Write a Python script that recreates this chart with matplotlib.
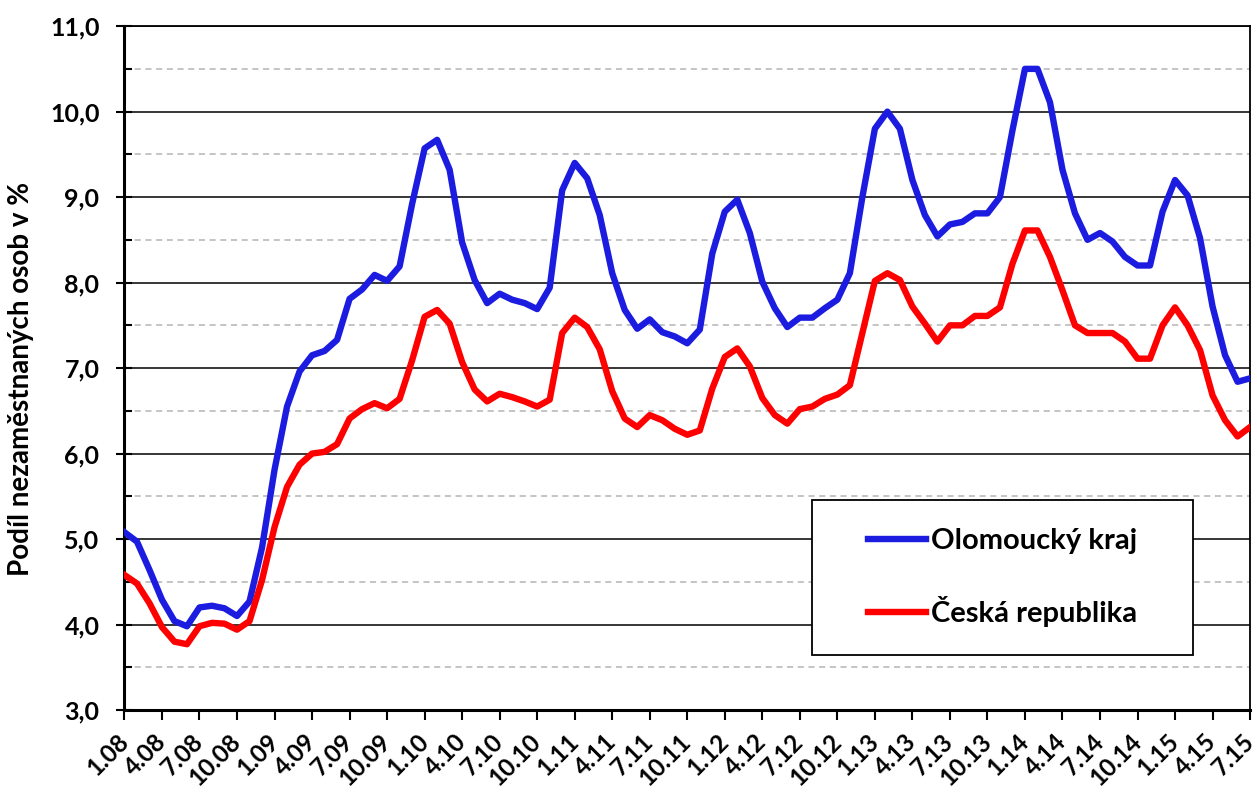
import numpy as np
import matplotlib
matplotlib.use("Agg")
import matplotlib.pyplot as plt
from matplotlib.patches import Rectangle
from matplotlib.ticker import MultipleLocator


# monthly unemployment share, 1/2008 .. 7/2015
olomoucky = [
    5.08, 4.97, 4.64, 4.29, 4.04, 3.98, 4.20, 4.22, 4.19, 4.10, 4.27, 4.90,
    5.81, 6.55, 6.96, 7.15, 7.20, 7.33, 7.81, 7.92, 8.09, 8.02, 8.19, 8.92,
    9.57, 9.67, 9.32, 8.47, 8.03, 7.76, 7.87, 7.80, 7.76, 7.69, 7.94, 9.08,
    9.40, 9.22, 8.79, 8.11, 7.68, 7.46, 7.57, 7.42, 7.37, 7.29, 7.45, 8.34,
    8.83, 8.97, 8.58, 8.01, 7.70, 7.48, 7.59, 7.59, 7.70, 7.80, 8.11, 9.00,
    9.80, 10.00, 9.80, 9.20, 8.79, 8.54, 8.68, 8.71, 8.81, 8.81, 9.00, 9.78,
    10.50, 10.50, 10.11, 9.32, 8.81, 8.50, 8.58, 8.48, 8.30, 8.20, 8.20, 8.83,
    9.20, 9.02, 8.52, 7.72, 7.15, 6.84, 6.88,
]
cr = [
    4.58, 4.48, 4.25, 3.97, 3.80, 3.77, 3.98, 4.02, 4.01, 3.94, 4.04, 4.52,
    5.14, 5.61, 5.87, 6.00, 6.02, 6.11, 6.41, 6.52, 6.59, 6.53, 6.64, 7.09,
    7.60, 7.68, 7.52, 7.07, 6.75, 6.61, 6.70, 6.66, 6.61, 6.55, 6.63, 7.41,
    7.59, 7.48, 7.22, 6.73, 6.41, 6.31, 6.45, 6.39, 6.29, 6.22, 6.27, 6.76,
    7.13, 7.23, 7.02, 6.65, 6.45, 6.35, 6.52, 6.55, 6.64, 6.69, 6.80, 7.41,
    8.02, 8.11, 8.03, 7.72, 7.52, 7.31, 7.50, 7.50, 7.61, 7.61, 7.71, 8.22,
    8.61, 8.61, 8.30, 7.91, 7.50, 7.41, 7.41, 7.41, 7.31, 7.11, 7.11, 7.50,
    7.71, 7.50, 7.21, 6.68, 6.39, 6.20, 6.31,
]
x_labels = [
    "1.08", "4.08", "7.08", "10.08", "1.09", "4.09", "7.09", "10.09",
    "1.10", "4.10", "7.10", "10.10", "1.11", "4.11", "7.11", "10.11",
    "1.12", "4.12", "7.12", "10.12", "1.13", "4.13", "7.13", "10.13",
    "1.14", "4.14", "7.14", "10.14", "1.15", "4.15", "7.15",
]
series_names = ["Olomoucký kraj", "Česká republika"]

FONT = ["Lato", "DejaVu Sans"]
plt.rcParams["font.family"] = FONT
plt.rcParams["font.weight"] = "bold"

fig = plt.figure(figsize=(12.57, 7.92), dpi=100)
ax = fig.add_axes([0.099, 0.1035, 0.8955, 0.8635])

months = np.arange(len(olomoucky))
ax.plot(months, olomoucky, color="#1c1ce0", lw=4.6, solid_joinstyle="round",
        label=series_names[0], zorder=4)
ax.plot(months, cr, color="#ff0000", lw=4.6, solid_joinstyle="round",
        label=series_names[1], zorder=4)

ax.set_xlim(0, len(olomoucky) - 1)
ax.set_ylim(3, 11)

ax.set_xticks(months[::3])
ax.set_xticklabels(x_labels, rotation=45, ha="right", va="center",
                   rotation_mode="anchor", fontsize=17.5, fontweight="bold")

ax.yaxis.set_major_locator(MultipleLocator(1))
ax.yaxis.set_minor_locator(MultipleLocator(0.5))
ax.yaxis.set_major_formatter(lambda v, pos: f"{v:.1f}".replace(".", ","))

ax.tick_params(axis="x", direction="out", length=7, width=1.5, pad=13)
ax.tick_params(axis="y", which="major", direction="inout", length=12, width=1.5,
               pad=12, labelsize=18)
ax.tick_params(axis="y", which="minor", direction="in", length=6, width=1.5)
for lab in ax.get_yticklabels():
    lab.set_fontweight("bold")

ax.grid(axis="y", which="major", color="black", lw=1.1, zorder=1)
ax.grid(axis="y", which="minor", color="#b4b4b4", lw=1.1, ls=(0, (4, 3)), zorder=1)
ax.set_axisbelow(True)

for side in ["left", "bottom"]:
    ax.spines[side].set_linewidth(2.2)
for side in ["right", "top"]:
    ax.spines[side].set_linewidth(1.3)

ax.set_ylabel("Podíl nezaměstnaných osob v %", fontsize=20, fontweight="bold")
ax.yaxis.set_label_coords(-0.08, 0.484)

box = Rectangle((0.611, 0.080), 0.338, 0.227, transform=ax.transAxes,
                facecolor="white", edgecolor="black", lw=1.3, zorder=3)
ax.add_patch(box)
ax.legend(loc="center", bbox_to_anchor=(0.78, 0.1935), frameon=False,
          prop={"size": 21, "weight": "bold"}, handlelength=2.0,
          handletextpad=0.15, labelspacing=1.45)

fig.savefig("out.png", dpi=100)
